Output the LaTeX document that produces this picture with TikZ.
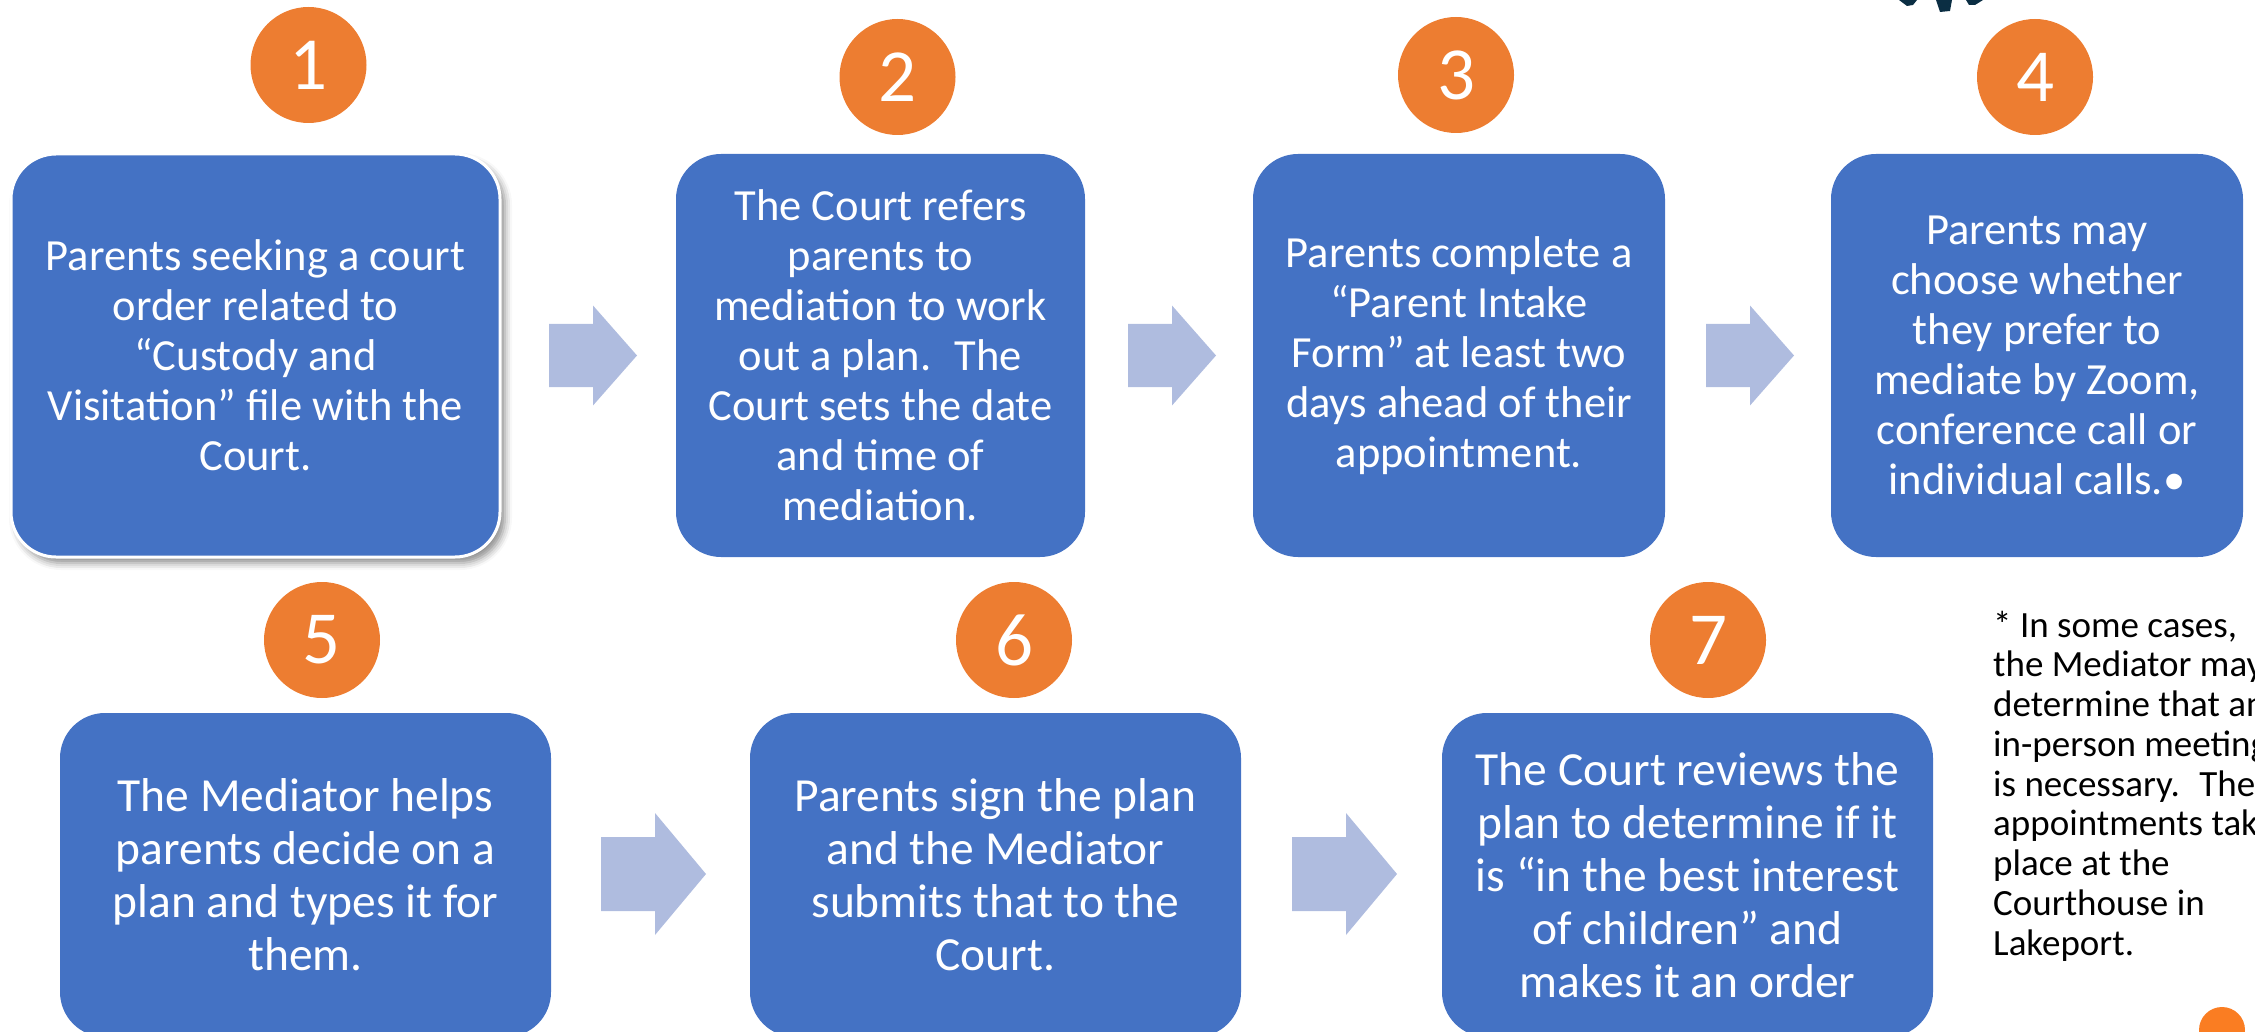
\documentclass[tikz,border=0pt]{standalone}
\usepackage{fontspec}
\setmainfont{Carlito}
\usetikzlibrary{shadows.blur}
\definecolor{boxblue}{HTML}{4472C4}
\definecolor{numorange}{HTML}{ED7D31}
\definecolor{arrowblue}{HTML}{AFBCDF}
\definecolor{cornerorange}{HTML}{FA7D22}
\definecolor{logonavy}{HTML}{0B2E43}
\begin{document}
\begin{tikzpicture}[x=1pt,y=-1pt,
  stepbox/.style={fill=boxblue, rounded corners=45pt, text=white, align=center, inner sep=0pt},
  toptext/.style={font=\fontsize{44.5}{50}\selectfont},
  bottext/.style={font=\fontsize{47.5}{53}\selectfont},
  numcircle/.style={circle, fill=numorange, text=white, minimum size=116pt, inner sep=0pt, font=\fontsize{75}{75}\selectfont},
  notetext/.style={align=left, inner sep=0pt, text=black, font=\fontsize{37}{39.75}\selectfont},
  toparrow/.pic={\fill[arrowblue] (0,-31.5) -- (44,-31.5) -- (44,-50) -- (88,0) -- (44,50) -- (44,31.5) -- (0,31.5) -- cycle;},
  botarrow/.pic={\fill[arrowblue] (0,-37) -- (54,-37) -- (54,-61) -- (105,0) -- (54,61) -- (54,37) -- (0,37) -- cycle;}
]
\useasboundingbox (0,0) rectangle (2255,1032);
\clip (0,0) rectangle (2255,1032);

% logo fragment at top
\fill[logonavy] (1899,0) -- (1917,0) -- (1913,5) -- (1907,6) -- cycle;
\fill[logonavy] (1936,0) -- (1952,0) -- (1950,11) -- (1940,12) -- cycle;
\fill[logonavy] (1966,0) -- (1983,0) -- (1975,5) -- (1969,5) -- cycle;

% top row boxes
\node[stepbox, toptext, draw=white, line width=3pt,
      blur shadow={shadow xshift=5pt, shadow yshift=-6pt, shadow blur radius=7pt, shadow opacity=45},
      minimum width=489pt, minimum height=403pt] (b1) at (255.5,355.5)
  {Parents seeking a court\\order related to\\“Custody and\\Visitation” file with the\\Court.};
\node[stepbox, toptext, minimum width=409pt, minimum height=403pt] (b2) at (880.5,355.5)
  {The Court refers\\parents to\\mediation to work\\out a plan.~ The\\Court sets the date\\and time of\\mediation.};
\node[stepbox, toptext, minimum width=412pt, minimum height=403pt] (b3) at (1459,355.5)
  {Parents complete a\\“Parent Intake\\Form” at least two\\days ahead of their\\appointment.};
\node[stepbox, toptext, minimum width=412pt, minimum height=403pt] (b4) at (2037,355.5)
  {Parents may\\choose whether\\they prefer to\\mediate by Zoom,\\conference call or\\individual calls.•};

% bottom row boxes
\node[stepbox, bottext, minimum width=491pt, minimum height=324pt] (b5) at (305.5,875)
  {The Mediator helps\\parents decide on a\\plan and types it for\\them.};
\node[stepbox, bottext, minimum width=491pt, minimum height=324pt] (b6) at (995.5,875)
  {Parents sign the plan\\and the Mediator\\submits that to the\\Court.};
\node[stepbox, bottext, minimum width=491pt, minimum height=324pt] (b7) at (1687.5,875)
  {The Court reviews the\\plan to determine if it\\is “in the best interest\\of children” and\\makes it an order};

% number circles
\node[numcircle] (n1) at (308.5,65) {1};
\node[numcircle] (n2) at (897.5,77) {2};
\node[numcircle] (n3) at (1456,75) {3};
\node[numcircle] (n4) at (2035,77) {4};
\node[numcircle] (n5) at (322,640) {5};
\node[numcircle] (n6) at (1014,640) {6};
\node[numcircle] (n7) at (1708,640) {7};

% block arrows
\pic at (549,355.5) {toparrow};
\pic at (1128,355.5) {toparrow};
\pic at (1706,355.5) {toparrow};
\pic at (601,874) {botarrow};
\pic at (1292,874) {botarrow};

% note (base anchor = baseline of the last line)
\node[notetext, anchor=base west] (note) at (1993,955)
  {* In some cases,\\the Mediator may\\determine that an\\in-person meeting\\is necessary.~ These\\appointments take\\place at the\\Courthouse in\\Lakeport.};

% corner dot
\fill[cornerorange] (2222,1030) circle (23);
\end{tikzpicture}
\end{document}
